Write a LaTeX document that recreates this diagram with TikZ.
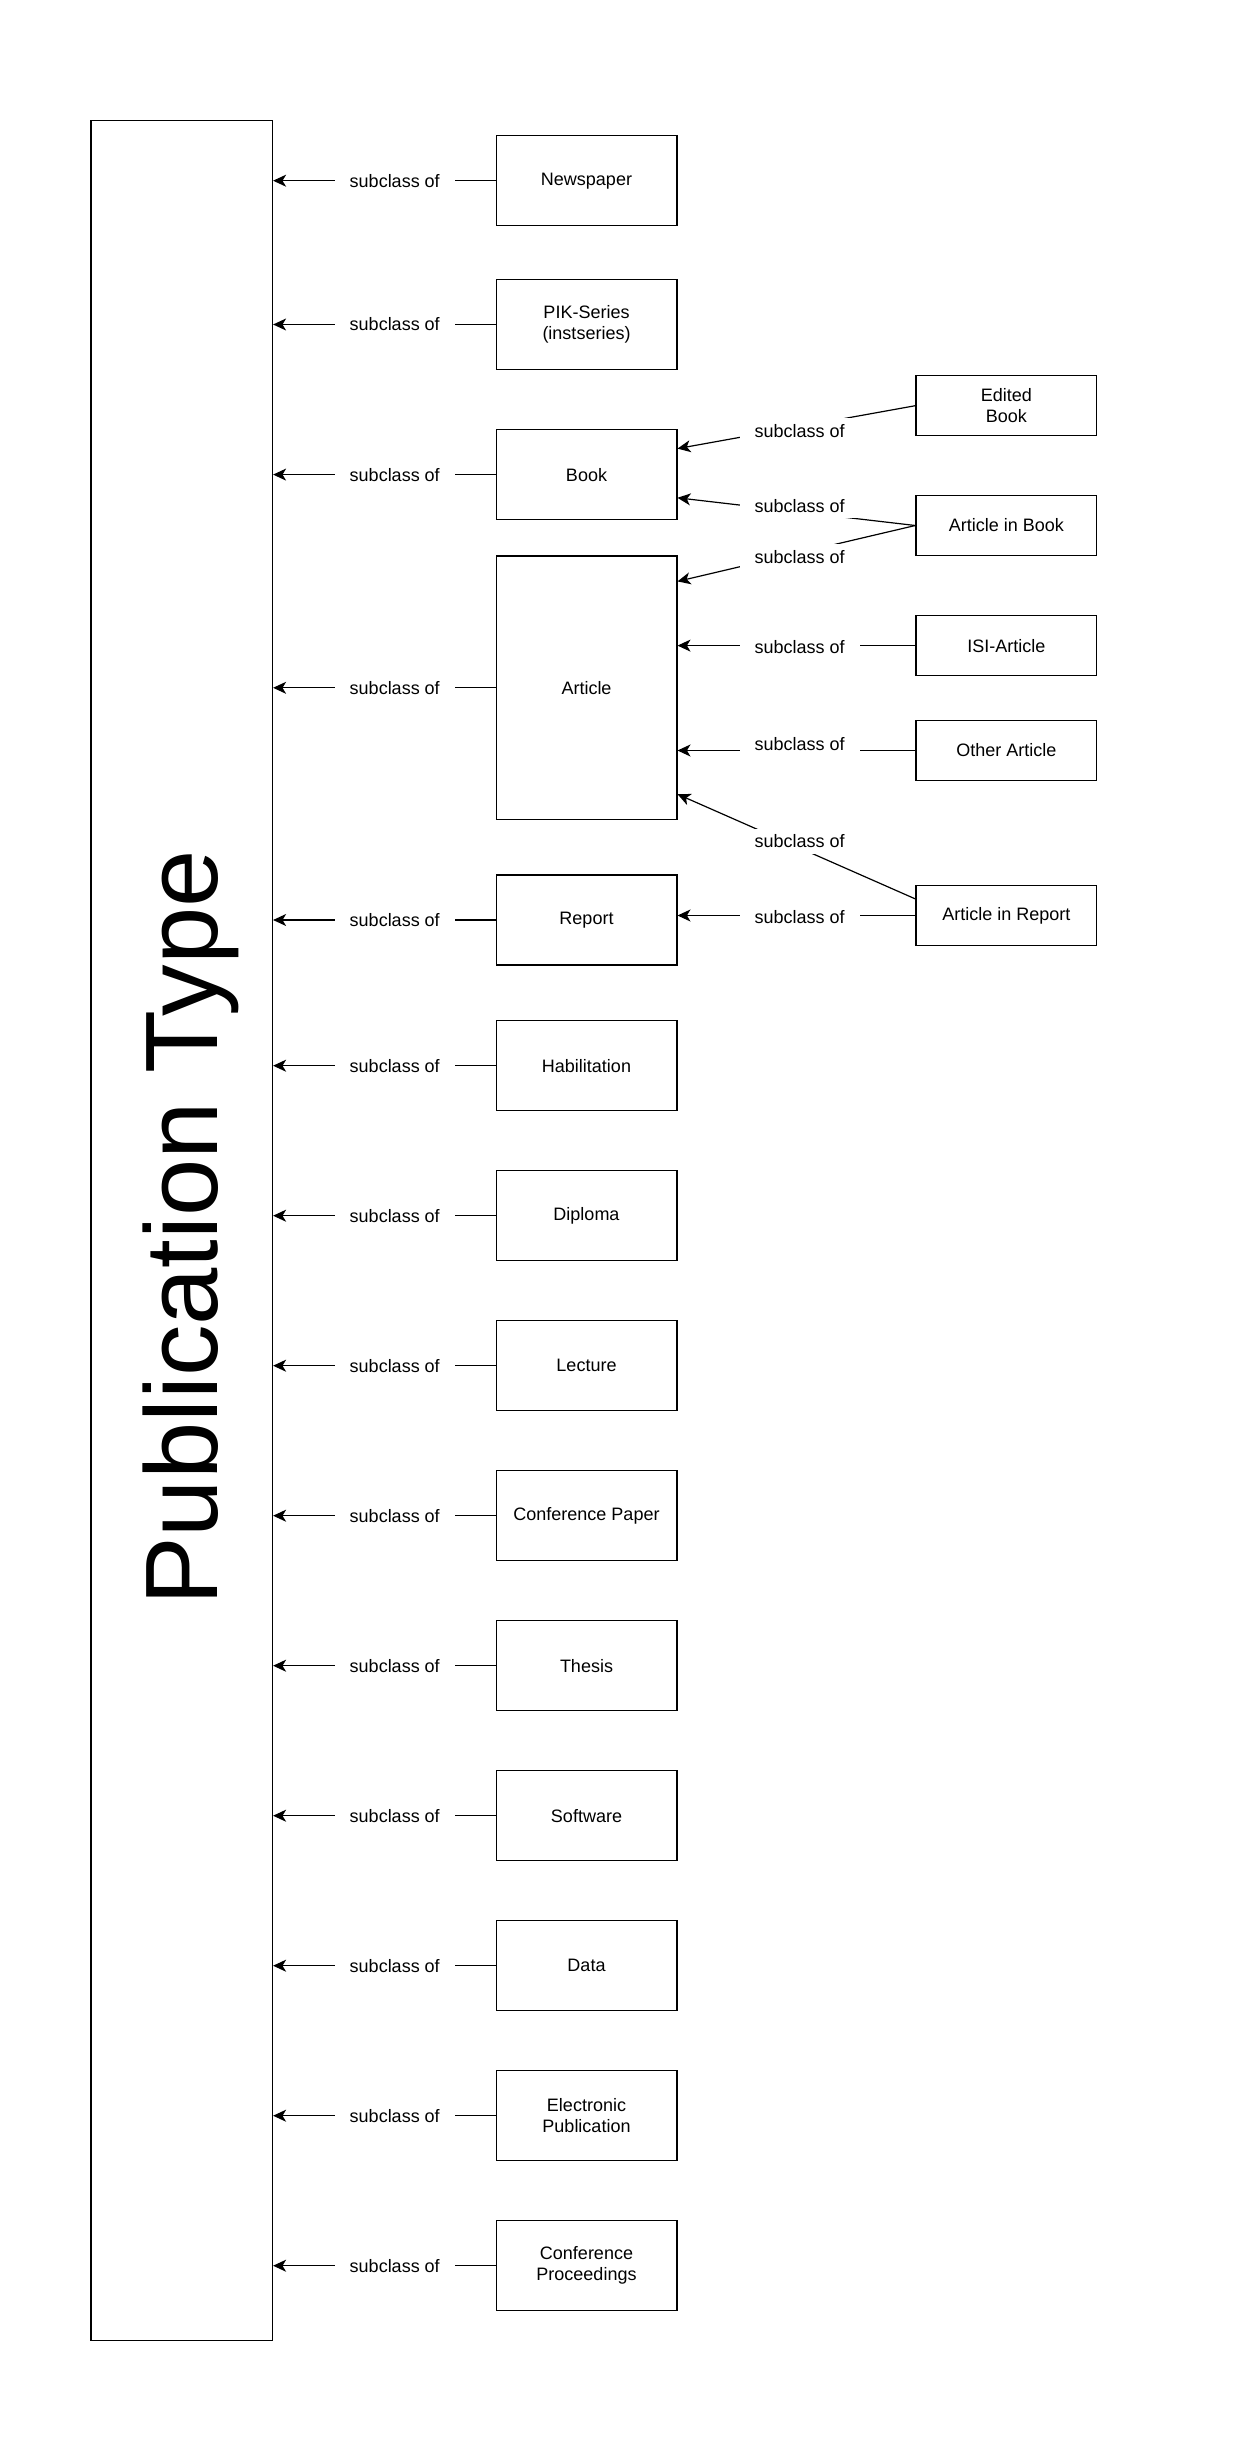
\documentclass[tikz,border=0pt]{standalone}
\usepackage{fontspec}
\setmainfont{Liberation Sans}
\usetikzlibrary{arrows.meta,calc}
\begin{document}
\begin{tikzpicture}[x=0.5pt,y=-0.5pt,
  box/.style={draw, line width=0.6pt, minimum width=90.4pt, minimum height=45pt, inner sep=0pt, align=center, font=\fontsize{9}{10.5}\selectfont},
  sbox/.style={box, minimum height=30pt},
  lbl/.style={fill=white, inner xsep=7.5pt, inner ysep=3pt, font=\fontsize{9}{10.5}\selectfont},
  arr/.style={line width=0.6pt, -{Stealth[length=6.5pt,width=6pt,inset=1.8pt]}}]
\useasboundingbox (0,0) rectangle (1235,2462);
% main class
\node[draw, line width=0.6pt, minimum width=90.75pt, minimum height=1110pt, inner sep=0pt] (pt) at (181.75,1230.7) {};
\node[rotate=90, anchor=base, inner sep=0pt, font=\fontsize{51.5}{60}\selectfont] (ptl) at (217.3,1228) {Publication Type};
% first-level subclasses
\node[box] (news) at (586.5,180.7) {Newspaper};
\node[box] (pik) at (586.5,324.5) {PIK-Series\\(instseries)};
\node[box] (book) at (586.5,474.6) {Book};
\node[box, minimum height=131.8pt] (article) at (586.5,687.8) {Article};
\node[box] (report) at (586.5,920) {Report};
\node[box] (habil) at (586.5,1065.7) {Habilitation};
\node[box] (diploma) at (586.5,1215.7) {Diploma};
\node[box] (lecture) at (586.5,1365.7) {Lecture};
\node[box] (confpaper) at (586.5,1515.7) {Conference Paper};
\node[box] (thesis) at (586.5,1665.7) {Thesis};
\node[box] (software) at (586.5,1815.7) {Software};
\node[box] (data) at (586.5,1965.7) {Data};
\node[box] (epub) at (586.5,2115.7) {Electronic\\Publication};
\node[box] (confproc) at (586.5,2265.7) {Conference\\Proceedings};
% second-level subclasses
\node[sbox] (ebook) at (1006.3,405.7) {Edited\\Book};
\node[sbox] (aib) at (1006.3,525.5) {Article in Book};
\node[sbox] (isi) at (1006.3,645.6) {ISI-Article};
\node[sbox] (other) at (1006.3,750.5) {Other Article};
\node[sbox] (air) at (1006.3,915.5) {Article in Report};
% first-level connectors
\foreach \n in {news,pik,book,article,report,habil,diploma,lecture,confpaper,thesis,software,data,epub,confproc}
  \draw[arr] (\n.west) -- node[lbl,pos=0.453] (l\n) {subclass of} (\n.west -| pt.east);
% second-level connectors
\draw[arr] (ebook.west) -- ($(book.east)+(0,-26)$);
\node[lbl] (r1) at (799.6,430.8) {subclass of};
\draw[arr] (aib.west) -- ($(book.east)+(0,23.2)$);
\node[lbl] (r2) at (799.6,505.8) {subclass of};
\draw[arr] (aib.west) -- ($(article.north east)+(0,26)$);
\node[lbl] (r3) at (799.6,557) {subclass of};
\draw[arr] (isi.west) -- (isi.west -| article.east);
\node[lbl] (r4) at (799.6,647) {subclass of};
\draw[arr] (other.west) -- (other.west -| article.east);
\node[lbl] (r5) at (799.6,744) {subclass of};
\draw[arr] ($(air.north west)+(0,14)$) -- ($(article.south east)+(0,-26)$);
\node[lbl] (r6) at (799.6,841.4) {subclass of};
\draw[arr] (air.west) -- (air.west -| report.east);
\node[lbl] (r7) at (799.6,916.8) {subclass of};
\end{tikzpicture}
\end{document}
